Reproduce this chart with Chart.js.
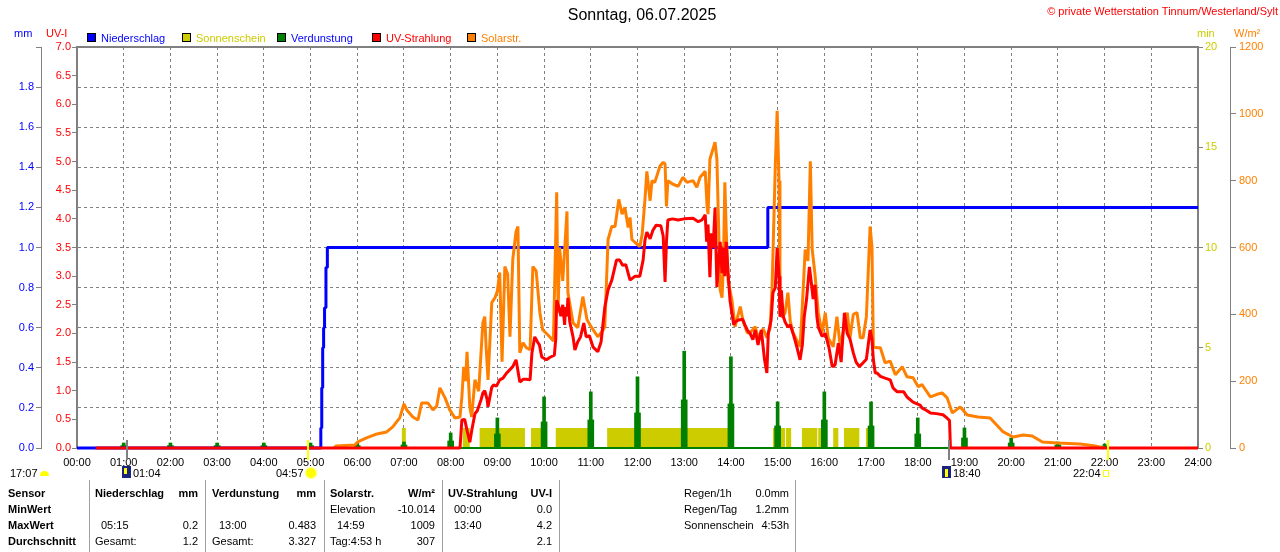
<!DOCTYPE html>
<html><head><meta charset="utf-8">
<script src="https://cdn.jsdelivr.net/npm/chart.js@4.4.1/dist/chart.umd.min.js"></script>
<style>
html,body{margin:0;padding:0;background:#fff;}
#wrap{position:relative;width:1280px;height:552px;overflow:hidden;font-family:"Liberation Sans",Arial,sans-serif;font-size:11px;color:#000;}
canvas{position:absolute;left:0;top:0;}
.t{position:absolute;white-space:nowrap;line-height:12px;height:12px;}
.b{font-weight:bold;}
.sep{position:absolute;width:1px;background:#a0a0a0;top:480px;height:72px;}
.box{position:absolute;width:7px;height:7px;border:1px solid #000;}
.ic{position:absolute;}
</style></head><body>
<div id="wrap"><canvas id="c" width="1280" height="552"></canvas></div>
<script>
// ---------- DATA ----------
const xTickLabels = ['00:00','01:00','02:00','03:00','04:00','05:00','06:00','07:00','08:00','09:00','10:00','11:00','12:00','13:00','14:00','15:00','16:00','17:00','18:00','19:00','20:00','21:00','22:00','23:00','24:00'];

// Niederschlag (cumulative mm): [hour, mm]
const rainSeries = [[0,0],[5.20,0],[5.22,0.1],[5.24,0.3],[5.26,0.5],[5.28,0.6],[5.30,0.7],[5.33,0.9],[5.36,1.0],[14.79,1.2],[24,1.2]];

// Verdunstung hourly (mm)
const evapHours = [1,2,3,4,5,6,7,8,9,10,11,12,13,14,15,16,17,18,19,20,21,22];
const evapMM    = [0.025,0.025,0.025,0.025,0.025,0.025,0.03,0.075,0.15,0.255,0.28,0.355,0.483,0.455,0.23,0.28,0.23,0.15,0.1,0.05,0.03,0.02];
const evapBase  = [0.012,0.012,0.012,0.012,0.012,0.012,0.015,0.035,0.07,0.13,0.14,0.175,0.24,0.22,0.11,0.14,0.11,0.07,0.05,0.025,0.015,0.01];

// Sonnenschein periods (hours), height in min
const sunStart = [6.95,8.26,8.62,9.72,10.25,11.35,14.90,15.18,15.52,15.87,16.19,16.42,16.89];
const sunEnd   = [7.04,8.41,9.59,9.95,10.94,13.94,15.16,15.29,15.85,16.06,16.30,16.75,17.07];
const sunLevel = 1;

// Solarstrahlung W/m²: [hour, value]
const solarSeries = [[5.50,0],[5.55,6],[5.95,9],[6.01,18],[6.20,30],[6.42,42],[6.63,48],[6.76,63],[6.91,90],[7.00,132],[7.06,114],[7.19,93],[7.30,84],[7.38,135],[7.51,135],[7.62,114],[7.70,125],[7.77,180],[7.88,150],[7.98,114],[8.09,90],[8.20,93],[8.24,153],[8.28,243],[8.32,200],[8.35,288],[8.41,123],[8.45,93],[8.52,204],[8.60,170],[8.69,375],[8.73,393],[8.76,300],[8.80,204],[8.88,435],[8.95,450],[9.00,470],[9.05,525],[9.10,258],[9.16,543],[9.22,520],[9.27,333],[9.33,564],[9.40,648],[9.44,663],[9.48,285],[9.55,315],[9.62,300],[9.70,294],[9.76,543],[9.83,530],[9.91,405],[9.97,354],[10.12,333],[10.20,320],[10.27,765],[10.30,405],[10.33,600],[10.40,500],[10.49,708],[10.51,465],[10.62,375],[10.72,360],[10.83,453],[10.92,384],[11.02,360],[11.15,333],[11.25,350],[11.30,363],[11.37,624],[11.45,663],[11.52,663],[11.60,744],[11.67,700],[11.73,720],[11.80,660],[11.84,690],[11.88,624],[11.95,615],[12.05,603],[12.10,640],[12.16,744],[12.20,828],[12.27,740],[12.31,800],[12.37,795],[12.48,843],[12.55,855],[12.59,850],[12.62,723],[12.65,800],[12.75,790],[12.87,783],[12.97,810],[13.06,795],[13.19,800],[13.27,780],[13.34,810],[13.45,828],[13.49,723],[13.51,700],[13.55,864],[13.66,915],[13.70,864],[13.73,700],[13.77,474],[13.81,450],[13.84,550],[13.87,795],[13.90,650],[13.94,500],[14.02,444],[14.09,363],[14.20,423],[14.26,380],[14.35,345],[14.41,345],[14.52,363],[14.58,330],[14.69,357],[14.77,330],[14.84,360],[14.88,474],[14.95,843],[14.99,1009],[15.03,800],[15.05,465],[15.10,390],[15.16,405],[15.22,465],[15.27,380],[15.33,345],[15.42,320],[15.48,303],[15.52,400],[15.59,594],[15.65,560],[15.70,858],[15.74,594],[15.80,520],[15.87,405],[15.95,345],[16.02,405],[16.08,330],[16.19,303],[16.27,393],[16.34,303],[16.40,345],[16.49,405],[16.55,330],[16.62,400],[16.70,405],[16.77,330],[16.83,330],[16.90,393],[16.98,663],[17.02,600],[17.05,303],[17.13,300],[17.20,300],[17.30,255],[17.41,260],[17.52,219],[17.67,243],[17.77,213],[17.90,210],[18.01,183],[18.09,190],[18.27,153],[18.40,160],[18.52,165],[18.63,150],[18.74,105],[18.91,123],[19.06,99],[19.29,93],[19.55,90],[19.65,75],[19.83,48],[20.04,33],[20.26,39],[20.45,36],[20.67,18],[20.99,15],[21.48,12],[21.80,6],[21.99,0]];

// UV-Strahlung (UV-I): [hour, value]
const uvSeries = [[0.40,0],[8.20,0],[8.24,0.49],[8.30,0.5],[8.35,0.31],[8.41,0.1],[8.45,0.3],[8.52,0.6],[8.57,0.65],[8.65,0.84],[8.69,0.96],[8.73,1.0],[8.78,0.85],[8.80,0.72],[8.88,1.06],[8.92,1.1],[8.98,1.08],[9.05,1.19],[9.12,1.22],[9.20,1.31],[9.33,1.42],[9.40,1.54],[9.44,1.35],[9.48,1.15],[9.55,1.2],[9.62,1.2],[9.70,1.19],[9.74,1.66],[9.80,1.94],[9.86,1.85],[9.90,1.8],[9.95,1.59],[10.05,1.54],[10.12,1.58],[10.22,1.62],[10.25,1.9],[10.27,2.58],[10.32,2.45],[10.36,2.3],[10.40,2.5],[10.44,2.15],[10.46,2.46],[10.49,2.3],[10.51,2.62],[10.55,2.2],[10.62,1.94],[10.66,1.71],[10.72,1.85],[10.78,1.94],[10.85,2.18],[10.90,1.94],[10.97,1.96],[11.05,1.76],[11.15,1.68],[11.22,1.85],[11.30,2.46],[11.37,2.76],[11.45,2.93],[11.55,3.28],[11.62,3.28],[11.68,3.19],[11.75,3.2],[11.84,2.93],[11.95,3.0],[12.05,3.0],[12.12,3.28],[12.16,3.63],[12.20,3.77],[12.27,3.65],[12.33,3.8],[12.40,3.89],[12.50,3.88],[12.55,3.7],[12.59,2.9],[12.62,3.6],[12.65,3.98],[12.75,4.0],[12.87,3.98],[13.00,4.0],[13.19,4.01],[13.30,3.95],[13.38,3.98],[13.45,4.07],[13.48,3.6],[13.51,3.9],[13.55,2.98],[13.58,3.75],[13.62,3.5],[13.66,4.19],[13.70,2.81],[13.74,3.3],[13.77,3.6],[13.81,3.05],[13.84,3.5],[13.87,3.0],[13.90,3.6],[13.94,3.05],[13.98,2.58],[14.02,2.36],[14.06,2.15],[14.09,2.2],[14.15,2.23],[14.25,2.25],[14.30,2.15],[14.35,2.06],[14.41,2.0],[14.47,1.89],[14.52,2.06],[14.58,1.8],[14.65,2.06],[14.72,1.54],[14.77,1.31],[14.80,2.0],[14.86,2.23],[14.90,2.71],[14.95,2.8],[14.99,3.49],[15.03,3.0],[15.05,2.29],[15.08,2.75],[15.12,2.3],[15.16,2.2],[15.22,2.11],[15.27,2.15],[15.33,2.0],[15.40,1.8],[15.48,1.54],[15.53,1.8],[15.57,2.29],[15.62,2.6],[15.68,3.16],[15.72,2.9],[15.76,2.6],[15.80,2.85],[15.84,2.3],[15.87,2.11],[15.95,1.95],[16.02,2.0],[16.10,1.75],[16.17,1.42],[16.23,1.45],[16.30,1.83],[16.36,1.5],[16.43,2.36],[16.49,2.0],[16.55,1.9],[16.62,1.66],[16.68,1.5],[16.75,1.42],[16.82,1.48],[16.90,1.55],[16.98,2.06],[17.02,1.9],[17.05,1.54],[17.09,1.31],[17.13,1.31],[17.20,1.25],[17.30,1.22],[17.41,1.19],[17.47,1.05],[17.56,0.98],[17.70,0.98],[17.77,0.89],[17.90,0.8],[18.05,0.75],[18.09,0.7],[18.20,0.65],[18.27,0.61],[18.40,0.6],[18.54,0.58],[18.63,0.52],[18.68,0.48],[18.70,0],[24,0]];

// Sun / moon events (hours): moonrise 01:04, sunrise 04:57, moonset 18:40, sunset 22:04
const eventTimes = [1.067, 4.95, 18.667, 22.067];
const eventKinds = ['moon','sun','moon','sun'];

// ---------- CHART ----------
const FONT = '"Liberation Sans", Arial, sans-serif';
const pts = s => s.map(p => ({x:p[0], y:p[1]}));
const sunPoints = [];
sunStart.forEach((s,i) => { sunPoints.push({x:s,y:0},{x:s,y:sunLevel},{x:sunEnd[i],y:sunLevel},{x:sunEnd[i],y:0}); });

const framePlugin = {
  id:'frame',
  beforeDatasetsDraw(chart){
    const {ctx, chartArea:a} = chart;
    ctx.save(); ctx.strokeStyle='#808080'; ctx.lineWidth=2;
    ctx.beginPath(); ctx.moveTo(a.left-1, a.top); ctx.lineTo(a.right+1, a.top); ctx.stroke();
    ctx.restore();
  },
  afterDraw(chart){
    const {ctx, chartArea:a} = chart; const xs = chart.scales.x;
    ctx.save(); ctx.lineWidth=2;
    eventTimes.forEach((t,i)=>{
      const px = Math.round(xs.getPixelForValue(t));
      ctx.strokeStyle = eventKinds[i]==='moon' ? '#808080' : '#ffff00';
      ctx.beginPath();
      ctx.moveTo(px, a.bottom-8); ctx.lineTo(px, a.bottom+12); ctx.stroke();
    });
    ctx.restore();
  }
};

const tickFont = {family:FONT, size:11};
new Chart(document.getElementById('c'), {
  type:'line',
  data:{datasets:[
    {label:'UV-Strahlung', data:pts(uvSeries), yAxisID:'yUV', borderColor:'#ff0000', borderWidth:3, clip:false, order:0},
    {label:'Solarstr.', data:pts(solarSeries), yAxisID:'ySolar', borderColor:'#ff8000', borderWidth:3, clip:false, order:1},
    {label:'Niederschlag', data:pts(rainSeries), yAxisID:'yMM', borderColor:'#0000ff', borderWidth:3, stepped:true, clip:false, order:2},
    {label:'Verdunstung0', data:[{x:0,y:0},{x:24,y:0}], yAxisID:'yMM', borderColor:'#008000', borderWidth:2, clip:false, order:3},
    {type:'bar', label:'Verdunstung', data:evapHours.map((h,i)=>({x:h,y:evapMM[i]})), yAxisID:'yMM', backgroundColor:'#008000', barThickness:3, grouped:false, order:4},
    {type:'bar', label:'Verdunstung1', data:evapHours.map((h,i)=>({x:h,y:evapBase[i]})), yAxisID:'yMM', backgroundColor:'#008000', barThickness:6, grouped:false, order:5},
    {label:'Sonnenschein', data:sunPoints, yAxisID:'yMin', borderWidth:0, borderColor:'rgba(0,0,0,0)', backgroundColor:'#cccc00', fill:'origin', order:6}
  ]},
  options:{
    responsive:false, animation:false, devicePixelRatio:1,
    layout:{padding:{left:0,right:0,top:47,bottom:82}},
    plugins:{legend:{display:false}, tooltip:{enabled:false}, title:{display:false}},
    elements:{point:{radius:0, hoverRadius:0}, line:{tension:0, borderJoinStyle:'bevel'}},
    scales:{
      x:{type:'linear', min:0, max:24, offset:false,
        afterFit(s){ s.height = 22; },
        ticks:{stepSize:1, autoSkip:false, maxRotation:0, color:'#000', font:tickFont, padding:8,
               callback:(v,i)=>xTickLabels[i]},
        grid:{color:'#808080', lineWidth:1, drawTicks:false, offset:false},
        border:{color:'#808080', width:2, dash:[3,3]}},
      yMM:{position:'left', weight:1, min:0, max:2,
        afterFit(s){ s.width = 41; },
        ticks:{stepSize:0.2, color:'#0000ff', font:tickFont, padding:2, callback:v=> v>1.95 ? '' : Number(v).toFixed(1)},
        grid:{color:'#808080', lineWidth:1, drawOnChartArea:true, tickLength:5, tickColor:'#808080'},
        border:{color:'#808080', width:1, dash:[3,3]}},
      yUV:{position:'left', weight:0, min:0, max:7,
        afterFit(s){ s.width = 36; },
        ticks:{stepSize:0.5, color:'#ff0000', font:tickFont, padding:1, callback:v=>Number(v).toFixed(1)},
        grid:{drawOnChartArea:false, tickLength:5, tickColor:'#808080', color:'#808080'},
        border:{color:'#808080', width:2}},
      yMin:{position:'right', weight:0, min:0, max:20,
        afterFit(s){ s.width = 32; },
        ticks:{stepSize:5, color:'#cccc00', font:tickFont, padding:2, callback:v=>String(v)},
        grid:{drawOnChartArea:false, tickLength:5, tickColor:'#808080', color:'#808080'},
        border:{color:'#808080', width:2}},
      ySolar:{position:'right', weight:1, min:0, max:1200,
        afterFit(s){ s.width = 50; },
        ticks:{stepSize:200, color:'#ff8000', font:tickFont, padding:3, callback:v=>String(v)},
        grid:{drawOnChartArea:false, tickLength:6, tickColor:'#808080', color:'#808080'},
        border:{color:'#808080', width:1}}
    }
  },
  plugins:[framePlugin]
});

// ---------- TEXT OVERLAY ----------
const wrap = document.getElementById('wrap');
function txt(s, x, yc, o={}){
  const d = document.createElement('div');
  d.className = 't' + (o.bold?' b':'');
  d.textContent = s;
  const fs = o.size || 11;
  d.style.fontSize = fs+'px';
  d.style.lineHeight = Math.round(fs*1.15)+'px';
  d.style.height = Math.round(fs*1.15)+'px';
  d.style.top = (yc - Math.round(fs*1.15)/2) + 'px';
  d.style.left = x + 'px';
  if (o.color) d.style.color = o.color;
  if (o.family) d.style.fontFamily = o.family;
  if (o.align==='right') d.style.transform='translateX(-100%)';
  if (o.align==='center') d.style.transform='translateX(-50%)';
  wrap.appendChild(d);
}
function el(cls, css){ const d=document.createElement('div'); d.className=cls; Object.assign(d.style, css); wrap.appendChild(d); return d; }

txt('Sonntag, 06.07.2025', 642, 15, {size:16, align:'center'});
txt('© private Wetterstation Tinnum/Westerland/Sylt', 1278, 11, {color:'#ff0000', align:'right'});
txt('mm', 14, 33, {color:'#0000ff'});
txt('UV-I', 46, 33, {color:'#ff0000'});
txt('min', 1197, 33, {color:'#cccc00'});
txt('W/m²', 1234, 33, {color:'#ff8000'});

const legendNames = ['Niederschlag','Sonnenschein','Verdunstung','UV-Strahlung','Solarstr.'];
const legendBox = ['#0000ff','#cccc00','#008000','#ff0000','#ff8000'];
const legendText = ['#0000ff','#cccc00','#0000ff','#ff0000','#ff8000'];
legendNames.forEach((n,i)=>{
  const bx = 87 + i*95;
  el('box', {left:bx+'px', top:'33px', background:legendBox[i]});
  txt(n, bx+14, 38, {color:legendText[i]});
});

// event row
txt('17:07', 10, 473);
el('ic', {left:'40px', top:'471px', width:'9px', height:'5px', background:'#ffff00', borderRadius:'5px 5px 0 0'});
el('ic', {left:'122px', top:'466px', width:'9px', height:'12px', background:'#1a237e'});
el('ic', {left:'124px', top:'468px', width:'3px', height:'6px', background:'#ffff00'});
txt('01:04', 133, 473);
txt('04:57', 276, 473);
el('ic', {left:'306px', top:'468px', width:'10px', height:'10px', background:'#ffff00', borderRadius:'50%', boxShadow:'0 0 2px 1px #ffff80'});
el('ic', {left:'942px', top:'466px', width:'9px', height:'12px', background:'#1a237e'});
el('ic', {left:'945px', top:'469px', width:'3px', height:'8px', background:'#ffff00'});
txt('18:40', 953, 473);
txt('22:04', 1073, 473);
el('ic', {left:'1103px', top:'470px', width:'4px', height:'5px', border:'1px solid #ffff00'});

// table
[89,205,324,442,559,795].forEach(x=>el('sep',{left:x+'px'}));
const R = [493,509,525,541];
txt('Sensor', 8, R[0], {bold:true});
txt('MinWert', 8, R[1], {bold:true});
txt('MaxWert', 8, R[2], {bold:true});
txt('Durchschnitt', 8, R[3], {bold:true});

txt('Niederschlag', 95, R[0], {bold:true}); txt('mm', 198, R[0], {bold:true, align:'right'});
txt('05:15', 101, R[2]); txt('0.2', 198, R[2], {align:'right'});
txt('Gesamt:', 95, R[3]); txt('1.2', 198, R[3], {align:'right'});

txt('Verdunstung', 212, R[0], {bold:true}); txt('mm', 316, R[0], {bold:true, align:'right'});
txt('13:00', 219, R[2]); txt('0.483', 316, R[2], {align:'right'});
txt('Gesamt:', 212, R[3]); txt('3.327', 316, R[3], {align:'right'});

txt('Solarstr.', 330, R[0], {bold:true}); txt('W/m²', 435, R[0], {bold:true, align:'right'});
txt('Elevation', 330, R[1]); txt('-10.014', 435, R[1], {align:'right'});
txt('14:59', 337, R[2]); txt('1009', 435, R[2], {align:'right'});
txt('Tag:4:53 h', 330, R[3]); txt('307', 435, R[3], {align:'right'});

txt('UV-Strahlung', 448, R[0], {bold:true}); txt('UV-I', 552, R[0], {bold:true, align:'right'});
txt('00:00', 454, R[1]); txt('0.0', 552, R[1], {align:'right'});
txt('13:40', 454, R[2]); txt('4.2', 552, R[2], {align:'right'});
txt('2.1', 552, R[3], {align:'right'});

txt('Regen/1h', 684, R[0]); txt('0.0mm', 789, R[0], {align:'right'});
txt('Regen/Tag', 684, R[1]); txt('1.2mm', 789, R[1], {align:'right'});
txt('Sonnenschein', 684, R[2]); txt('4:53h', 789, R[2], {align:'right'});
</script></body></html>
